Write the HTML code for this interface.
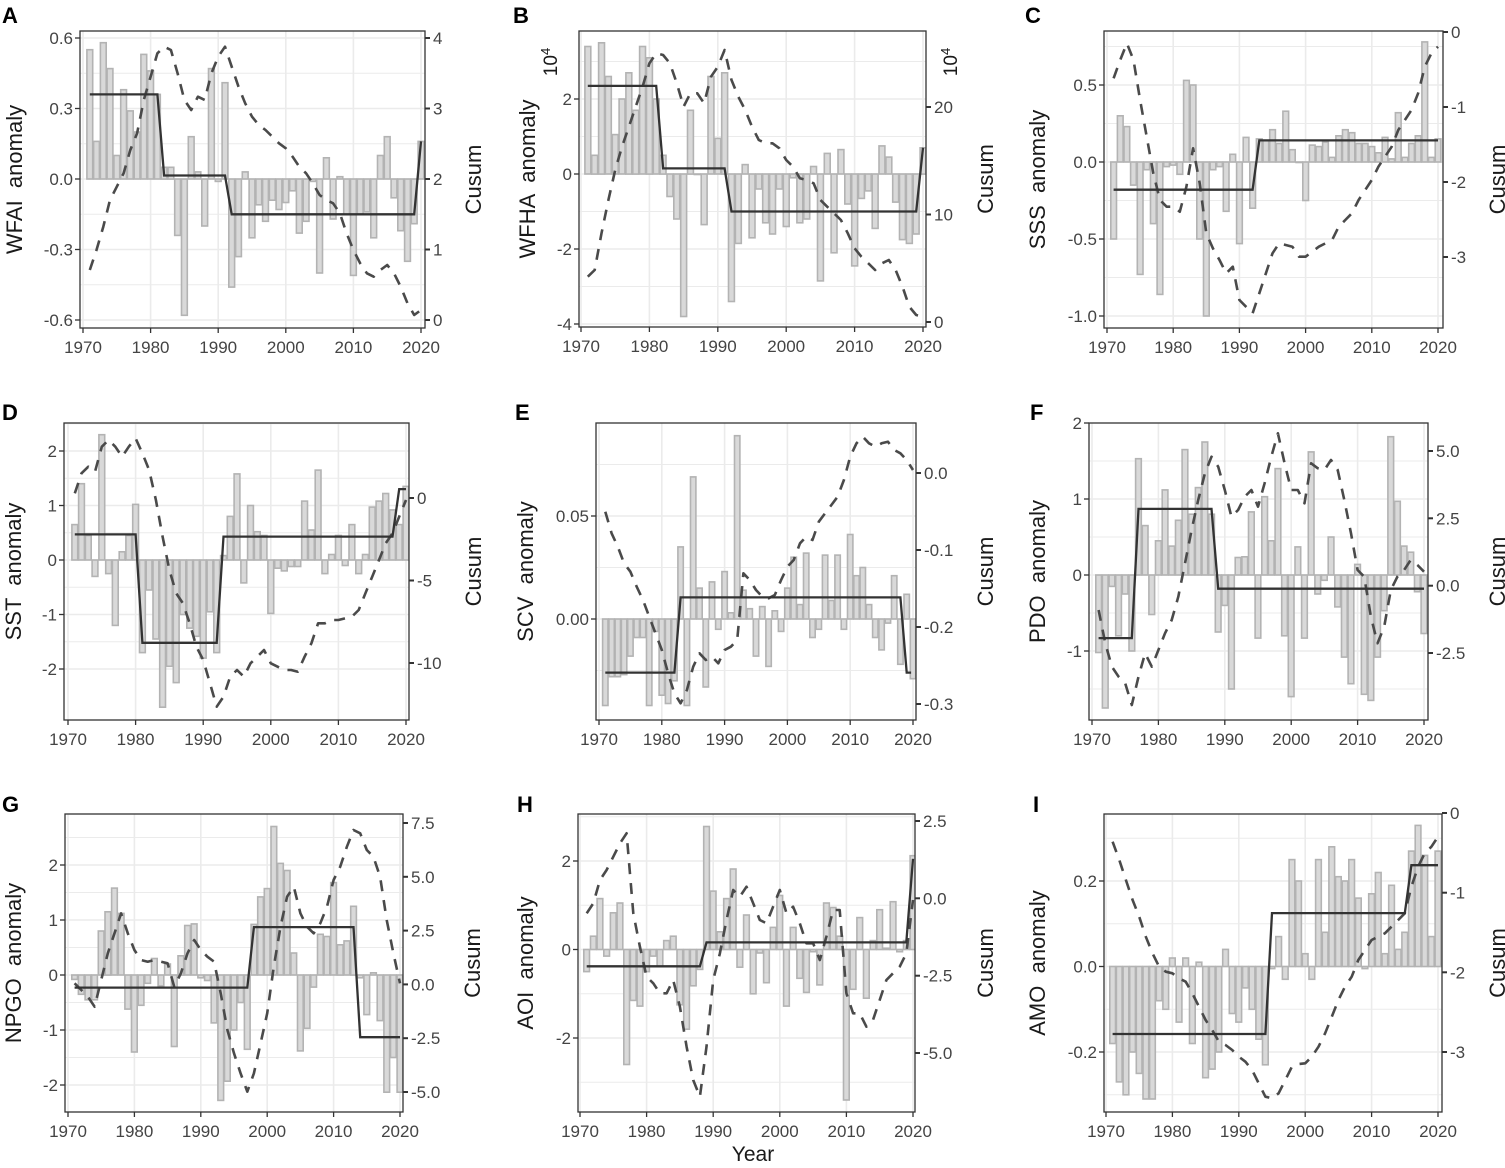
<!DOCTYPE html>
<html><head><meta charset="utf-8"><style>
html,body{margin:0;padding:0;background:#fff;}
svg text{font-family:"Liberation Sans",Arial,sans-serif;}
</style></head><body>
<svg id="s" width="1505" height="1163" xmlns="http://www.w3.org/2000/svg"></svg>
<script>
const P=[
{lab:'A',lx:2,ly:23,box:[80,31,425,328],x70:83,x20:421,L:[0.6,38,0,179],lt:[[0.6,'0.6'],[0.3,'0.3'],[0,'0.0'],[-0.3,'-0.3'],[-0.6,'-0.6']],R:[4,38,0,320],rt:[[4,'4'],[3,'3'],[2,'2'],[1,'1'],[0,'0']],title:'WFAI  anomaly',tx:14,cx:473,
bars:[.55,.16,.58,.47,.10,.38,.29,.20,.53,.46,.36,.05,.05,-.24,-.58,.18,.03,-.20,.47,-.01,.41,-.46,-.33,.03,-.25,-.11,-.18,-.09,-.13,-.10,-.05,-.23,-.18,-.01,-.40,.09,-.17,.01,-.15,-.41,-.15,-.14,-.25,.10,.18,-.08,-.22,-.35,-.19,.16],
step:[[1971,.36],[1981,.36],[1982,.015],[1991,.015],[1992,-.15],[2019,-.15],[2020,.16]],
cus:[810,750,680,600,560,520,450,400,300,230,160,140,150,220,300,330,290,300,220,170,140,200,260,310,350,375,390,410,430,445,470,500,520,550,585,600,610,640,700,750,790,820,830,810,795,820,860,910,945,930],oy:0},
{lab:'B',lx:513,ly:23,box:[579,31,926,327],x70:581,x20:923,L:[2,99,0,174],lt:[[2,'2'],[0,'0'],[-2,'-2'],[-4,'-4']],R:[20,107,0,322],rt:[[20,'20'],[10,'10'],[0,'0']],title:'WFHA  anomaly',tx:527,cx:985,e4:true,
bars:[3.4,.5,3.5,2.6,1.05,2.0,2.7,1.7,3.4,3.1,2.0,.5,-.6,-1.2,-3.8,1.7,0,-1.35,2.6,.95,2.7,-3.4,-1.85,.25,-1.7,-.4,-1.3,-1.6,-.4,-1.4,-.1,-1.3,-1.2,.2,-2.85,.55,-2.1,.65,-.8,-2.45,-.65,-.45,-1.45,.75,.45,-.75,-1.75,-1.85,-1.6,.7],
step:[[1971,2.35],[1981,2.35],[1982,.15],[1991,.15],[1992,-1],[2019,-1],[2020,.7]],
cus:[830,810,700,600,510,440,380,320,260,190,160,165,190,250,320,280,280,310,230,200,150,240,290,330,380,420,430,430,445,480,500,535,540,550,600,620,640,660,700,745,770,790,810,790,780,810,860,920,945,950],oy:0},
{lab:'C',lx:1025,ly:23,box:[1104,31,1443,328],x70:1107,x20:1438,L:[0.5,85,-1,316],lt:[[0.5,'0.5'],[0,'0.0'],[-0.5,'-0.5'],[-1,'-1.0']],R:[0,32,-3,257],rt:[[0,'0'],[-1,'-1'],[-2,'-2'],[-3,'-3']],title:'SSS  anomaly',tx:1037,cx:1497,
bars:[-.5,.3,.23,-.15,-.73,-.05,-.4,-.86,-.03,-.02,-.08,.53,.5,-.5,-1.0,-.05,-.03,-.32,.05,-.53,.16,-.3,.15,.14,.21,.12,.33,.08,0,-.25,.11,.1,.13,.03,.17,.21,.19,.12,.12,.1,.06,.16,.02,.32,.03,.12,.17,.78,.03,.15],
step:[[1971,-.18],[1992,-.18],[1993,.14],[2020,.14]],
cus:[235,180,130,180,300,410,520,600,620,620,635,560,445,550,700,745,780,820,800,900,920,940,880,820,760,730,735,740,770,770,755,740,730,720,680,660,640,600,570,540,500,470,440,390,360,330,280,200,160,140],oy:0},
{lab:'D',lx:2,ly:420,box:[64,423,409,720],x70:68,x20:406,L:[2,451,-2,669],lt:[[2,'2'],[1,'1'],[0,'0'],[-1,'-1'],[-2,'-2']],R:[0,498,-10,663],rt:[[0,'0'],[-5,'-5'],[-10,'-10']],title:'SST  anomaly',tx:13,cx:473,
bars:[.65,1.4,.45,-.3,2.3,-.25,-1.2,.15,.45,1.02,-1.7,-.55,-1.45,-2.7,-1.95,-2.25,-1.0,-1.25,-1.4,-1.8,-.95,-1.7,.08,.8,1.58,-.42,1.0,.52,.45,-.98,-.15,-.2,-.12,-.12,1.08,.55,1.65,-.25,.1,.45,-.1,.65,-.25,.1,.97,1.08,1.22,.92,.65,1.35],
step:[[1971,.47],[1980,.47],[1981,-1.52],[1992,-1.52],[1993,.43],[2018,.43],[2019,1.3],[2020,1.3]],
cus:[310,250,230,245,170,150,170,200,170,145,190,240,330,440,540,610,640,700,770,810,880,950,920,860,840,860,820,800,780,820,830,840,840,845,800,760,700,700,690,690,685,680,660,610,560,510,460,430,380,330],oy:390},
{lab:'E',lx:515,ly:420,box:[596,423,916,720],x70:599,x20:913,L:[0.05,516,0,619],lt:[[0.05,'0.05'],[0,'0.00']],R:[0,473,-0.3,704],rt:[[0,'0.0'],[-0.1,'-0.1'],[-0.2,'-0.2'],[-0.3,'-0.3']],title:'SCV  anomaly',tx:525,cx:985,
bars:[-.042,-.028,-.028,-.027,-.018,-.009,-.009,-.042,-.006,-.037,-.041,-.03,.035,-.042,.069,.015,-.033,.018,-.005,.023,.003,.089,.014,.005,-.018,.006,-.023,.004,-.006,.015,.03,.007,.032,-.009,-.005,.031,.009,.031,-.005,.041,.021,.025,.007,-.009,-.015,-.002,.021,-.022,.012,-.029],
step:[[1971,-.026],[1982,-.026],[1983,.0105],[2018,.0105],[2019,-.026],[2019.7,-.026]],
cus:[365,430,470,520,545,590,630,680,730,780,850,910,940,900,830,790,810,800,820,780,770,750,550,570,600,620,625,615,570,530,510,460,440,450,395,370,345,320,270,200,160,140,160,170,160,155,180,190,210,240],oy:390},
{lab:'F',lx:1030,ly:420,box:[1089,423,1428,720],x70:1092,x20:1424,L:[2,423,-1,651],lt:[[2,'2'],[1,'1'],[0,'0'],[-1,'-1']],R:[5,451,-2.5,653],rt:[[5,'5.0'],[2.5,'2.5'],[0,'0.0'],[-2.5,'-2.5']],title:'PDO  anomaly',tx:1037,cx:1497,
bars:[-1.02,-1.75,-.15,-.8,-.25,-1.0,1.53,.65,-.52,.45,1.12,.38,.72,1.65,.8,1.15,1.75,.8,-.75,-.4,-1.5,.23,.24,.83,-.83,1.03,.45,1.4,-.8,-1.6,.37,-.83,1.62,-.25,-.07,.5,-.42,-1.08,-1.43,.14,-1.57,-1.65,-1.08,-.47,1.82,.97,.38,.3,-.22,-.77],
step:[[1971,-.83],[1976,-.83],[1977,.87],[1988,.87],[1989,-.18],[2020,-.18]],
cus:[660,760,830,860,880,945,860,790,830,780,730,690,620,520,420,330,250,200,230,300,380,360,320,300,350,280,200,130,220,300,300,340,220,235,240,210,240,330,430,540,560,680,760,710,600,560,540,510,525,545],oy:390},
{lab:'G',lx:2,ly:812,box:[65,814,403,1112],x70:68,x20:400,L:[2,865,-2,1085],lt:[[2,'2'],[1,'1'],[0,'0'],[-1,'-1'],[-2,'-2']],R:[7.5,823,-5,1092],rt:[[7.5,'7.5'],[5,'5.0'],[2.5,'2.5'],[0,'0.0'],[-2.5,'-2.5'],[-5,'-5.0']],title:'NPGO  anomaly',tx:13,cx:472,
bars:[-.08,-.35,-.45,-.45,.8,1.15,1.58,1.12,-.62,-1.4,-.55,-.15,.3,-.2,.2,-1.3,.35,.9,.93,-.05,-.1,-.87,-2.28,-1.93,-1.0,-.5,-1.35,.92,1.42,1.57,2.7,2.03,1.9,.4,-1.38,-.97,-.22,.74,.7,1.68,.55,.62,1.25,-.05,-.72,.04,-.83,-2.13,-1.5,-2.13],
step:[[1971,-.23],[1997,-.23],[1998,.87],[2013,.87],[2014,-1.13],[2020,-1.13]],
cus:[610,630,650,680,600,520,460,400,460,510,540,545,540,545,550,620,580,520,480,510,530,545,640,750,820,880,935,880,790,700,560,440,350,320,400,440,460,430,380,300,260,200,150,160,210,230,290,420,520,610],oy:780},
{lab:'H',lx:517,ly:812,box:[578,814,915,1112],x70:580,x20:913,L:[2,861,-2,1038],lt:[[2,'2'],[0,'0'],[-2,'-2']],R:[2.5,821,-5,1053],rt:[[2.5,'2.5'],[0,'0.0'],[-2.5,'-2.5'],[-5,'-5.0']],title:'AOI  anomaly',tx:525,cx:985,
bars:[-.5,.3,1.15,-.15,.83,1.05,-2.6,-1.15,-1.28,-.5,-.15,-.38,.2,.3,-1.25,-1.8,-.82,-.45,2.78,1.32,.4,1.15,1.82,-.4,.78,-1.0,-.08,-.75,.5,1.22,-1.28,.5,-.65,-.97,-.05,-.8,1.05,.95,.3,-3.4,-.9,.72,-1.1,.2,.9,.03,1.08,-.05,.2,2.12],
step:[[1971,-.38],[1988,-.38],[1989,.16],[2019,.16],[2020,2.05]],
cus:[400,370,300,270,230,190,160,400,500,590,610,640,640,600,680,800,900,950,800,600,520,420,330,350,320,370,420,430,380,330,400,380,430,490,490,540,470,390,390,640,700,700,740,720,660,600,580,560,520,360],oy:780},
{lab:'I',lx:1033,ly:812,box:[1104,814,1442,1112],x70:1106,x20:1438,L:[0.2,881,-0.2,1052],lt:[[0.2,'0.2'],[0,'0.0'],[-0.2,'-0.2']],R:[0,813,-3,1052],rt:[[0,'0'],[-1,'-1'],[-2,'-2'],[-3,'-3']],title:'AMO  anomaly',tx:1037,cx:1497,
bars:[-.18,-.27,-.3,-.2,-.25,-.31,-.31,-.08,-.1,.02,-.13,.02,-.18,.01,-.26,-.24,-.2,.04,-.11,-.13,-.05,-.1,-.17,-.23,-.005,.07,-.03,.25,.2,.03,-.03,.25,.08,.28,.21,.2,.25,.16,-.005,.17,.22,.03,.19,.04,.08,.27,.33,.26,.07,.27],
step:[[1971,-.158],[1994,-.158],[1995,.125],[2015,.125],[2016,.237],[2020,.237]],
cus:[185,240,300,360,410,470,520,560,575,580,595,605,640,680,720,750,785,795,810,830,845,870,910,950,955,940,900,860,852,850,830,800,760,710,660,620,590,540,510,480,470,460,440,420,400,320,260,220,200,170],oy:780}
];
let h='';
const f=v=>v.toFixed(1);
for(const p of P){
  const [x0,y0,x1,y1]=p.box;
  const X=yr=>p.x70+(yr-1970)*(p.x20-p.x70)/50;
  const YL=v=>p.L[1]+(v-p.L[0])*(p.L[3]-p.L[1])/(p.L[2]-p.L[0]);
  const YR=v=>p.R[1]+(v-p.R[0])*(p.R[3]-p.R[1])/(p.R[2]-p.R[0]);
  h+=`<clipPath id="c${p.lab}"><rect x="${x0}" y="${y0}" width="${x1-x0}" height="${y1-y0}"/></clipPath>`;
  const step=p.lt[0][0]-p.lt[1][0];
  let g='';
  for(let k=-3;k<=p.lt.length+3;k++){
    const v=p.lt[0][0]-k*step/2; const y=YL(v);
    if(y<=y0||y>=y1) continue;
    g+=`<line x1="${x0}" x2="${x1}" y1="${f(y)}" y2="${f(y)}" stroke="#ebebeb" stroke-width="${k%2?1:1.6}"/>`;
  }
  for(let yr=1970;yr<=2020;yr+=10){const x=X(yr);g+=`<line x1="${f(x)}" x2="${f(x)}" y1="${y0}" y2="${y1}" stroke="#ebebeb" stroke-width="1.6"/>`;}
  h+=`<g clip-path="url(#c${p.lab})">${g}`;
  const bw=(p.x20-p.x70)/50;
  p.bars.forEach((v,i)=>{const yr=1971+i;const xa=X(yr)-bw*0.43;const ya=YL(Math.max(v,0)),yb=YL(Math.min(v,0));
    h+=`<rect x="${f(xa)}" y="${f(ya)}" width="${f(bw*0.86)}" height="${f(Math.max(yb-ya,0.5))}" fill="#d9d9d9" stroke="#b3b3b3" stroke-width="1.6"/>`;});
  const pts=p.cus.map((zy,i)=>f(X(1971+i))+','+f(zy/3+p.oy)).join(' ');
  h+=`<polyline points="${pts}" fill="none" stroke="#4a4a4a" stroke-width="2.6" stroke-dasharray="11 9" stroke-linejoin="round"/>`;
  const sp=p.step.map(([yr,v])=>f(X(yr))+','+f(YL(v))).join(' ');
  h+=`<polyline points="${sp}" fill="none" stroke="#333" stroke-width="2.3"/></g>`;
  h+=`<rect x="${x0}" y="${y0}" width="${x1-x0}" height="${y1-y0}" fill="none" stroke="#333" stroke-width="1.3"/>`;
  for(const [v,t] of p.lt){const y=YL(v);h+=`<line x1="${x0-5}" x2="${x0}" y1="${f(y)}" y2="${f(y)}" stroke="#333" stroke-width="1.3"/><text x="${x0-7}" y="${f(y+6)}" font-size="17" fill="#444" text-anchor="end">${t}</text>`;}
  for(const [v,t] of p.rt){const y=YR(v);h+=`<line x1="${x1}" x2="${x1+5}" y1="${f(y)}" y2="${f(y)}" stroke="#333" stroke-width="2"/><text x="${x1+8}" y="${f(y+6)}" font-size="17" fill="#444">${t}</text>`;}
  for(let yr=1970;yr<=2020;yr+=10){const x=X(yr);h+=`<line x1="${f(x)}" x2="${f(x)}" y1="${y1}" y2="${y1+5}" stroke="#333" stroke-width="1.3"/><text x="${f(x)}" y="${y1+25}" font-size="17" fill="#444" text-anchor="middle">${yr}</text>`;}
  const cy=(y0+y1)/2;
  h+=`<text transform="translate(${p.tx+8},${cy}) rotate(-90)" font-size="22" fill="#1a1a1a" text-anchor="middle" style="white-space:pre">${p.title}</text>`;
  h+=`<text transform="translate(${p.cx+8},${cy}) rotate(-90)" font-size="22" fill="#1a1a1a" text-anchor="middle">Cusum</text>`;
  h+=`<text x="${p.lx}" y="${p.ly}" font-size="22" font-weight="bold" fill="#000">${p.lab}</text>`;
  if(p.e4){
    h+=`<text transform="translate(557,62) rotate(-90)" font-size="19" fill="#1a1a1a" text-anchor="middle">10<tspan dy="-7" font-size="13">4</tspan></text>`;
    h+=`<text transform="translate(957,62) rotate(-90)" font-size="19" fill="#1a1a1a" text-anchor="middle">10<tspan dy="-7" font-size="13">4</tspan></text>`;
  }
}
h+=`<text x="753" y="1161" font-size="21" fill="#1a1a1a" text-anchor="middle">Year</text>`;
document.getElementById('s').innerHTML=h;
</script>
</body></html>
